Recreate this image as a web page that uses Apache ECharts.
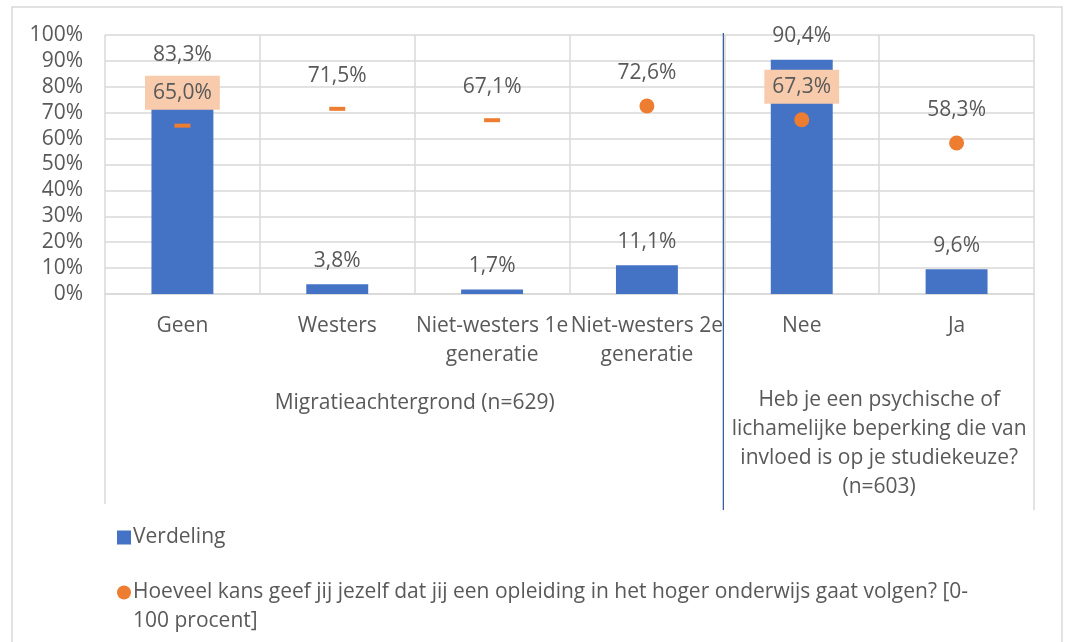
<!DOCTYPE html>
<html>
<head>
<meta charset="utf-8">
<script src="https://cdn.jsdelivr.net/npm/echarts@6/dist/echarts.min.js"></script>
<style>
  html, body { margin: 0; padding: 0; background: #fff; }
  #charts_box { width: 1070px; height: 642px; }
</style>
</head>
<body>
<div id="charts_box"></div>
<script>
// data
var categories = ['Geen', 'Westers', 'Niet-westers 1e\ngeneratie', 'Niet-westers 2e\ngeneratie', 'Nee', 'Ja'];
var verdeling = [83.3, 3.8, 1.7, 11.1, 90.4, 9.6];
var kans = [65.0, 71.5, 67.1, 72.6, 67.3, 58.3];
var kansMarker = ['dash', 'dash', 'dash', 'circle', 'circle', 'circle'];
var kansBoxed = [true, false, false, false, true, false];
var yTicks = [0, 10, 20, 30, 40, 50, 60, 70, 80, 90, 100];
var groups = [
  { name: 'Migratieachtergrond (n=629)', from: 0, to: 4 },
  { name: 'Heb je een psychische of\nlichamelijke beperking die van\ninvloed is op je studiekeuze?\n(n=603)', from: 4, to: 6 }
];
var serieNames = ['Verdeling', 'Hoeveel kans geef jij jezelf dat jij een opleiding in het hoger onderwijs gaat volgen? [0-'];
var legendTail = '100 procent]';

window.onload = function () {
  var myChart = echarts.init(document.getElementById('charts_box'));

  var gridLeft = 105, gridRight = 1034, gridTop = 35, gridBottom = 294;
  var catW = (gridRight - gridLeft) / categories.length;
  var txt = '#595959', font = 'Open Sans', fs = 21;

  function pct(v) { return v.toFixed(1).replace('.', ',') + '%'; }

  var kansData = kans.map(function (v, i) {
    var item = { value: v };
    if (kansMarker[i] === 'dash') {
      item.symbol = 'rect';
      item.symbolSize = [16, 4];
    } else {
      item.symbol = 'circle';
      item.symbolSize = 15;
    }
    if (kansBoxed[i]) {
      item.label = { backgroundColor: '#F8CBAD', padding: [7, 8, 6, 8] };
    }
    return item;
  });

  var graphics = [
    // outer chart border
    { type: 'rect', shape: { x: 12, y: 7, width: 1050, height: 660 }, style: { fill: 'none', stroke: '#D9D9D9', lineWidth: 1.5 }, silent: true },
    // category-axis area dividers
    { type: 'line', shape: { x1: gridLeft, y1: gridBottom, x2: gridLeft, y2: 504 }, style: { stroke: '#D9D9D9', lineWidth: 1.5 } },
    { type: 'line', shape: { x1: gridRight, y1: gridBottom, x2: gridRight, y2: 510 }, style: { stroke: '#D9D9D9', lineWidth: 1.5 } },
    { type: 'line', shape: { x1: gridLeft + 4 * catW - 1, y1: 33, x2: gridLeft + 4 * catW - 1, y2: 510 }, style: { stroke: '#2F5597', lineWidth: 1.2 }, z: 10 },
    // second line of the long legend text
    { type: 'text', left: 133, top: 607, style: { text: legendTail, fill: txt, font: fs + 'px "Open Sans"' } }
  ];
  groups.forEach(function (g) {
    graphics.push({
      type: 'text',
      x: gridLeft + (g.from + g.to) / 2 * catW,
      y: g.from === 0 ? 403 : 444,
      style: { text: g.name, fill: txt, font: fs + 'px "Open Sans"', align: 'center', verticalAlign: 'middle', lineHeight: 29 }
    });
  });
  graphics[4].top = 611;

  var option = {
    animation: false,
    textStyle: { fontFamily: font },
    grid: { left: gridLeft, right: 1070 - gridRight, top: gridTop, bottom: 642 - gridBottom },
    legend: {
      orient: 'vertical',
      left: 112,
      top: 522,
      itemWidth: 14,
      itemHeight: 14,
      itemGap: 34,
      textStyle: { color: txt, fontSize: fs, fontFamily: font, padding: [0, 0, 0, -3] },
      data: [
        { name: serieNames[0], icon: 'rect' },
        { name: serieNames[1], icon: 'circle' }
      ]
    },
    xAxis: {
      type: 'category',
      data: categories,
      axisLine: { lineStyle: { color: '#D9D9D9', width: 1.5 } },
      axisTick: { show: false },
      splitLine: { show: true, interval: 0, lineStyle: { color: '#D9D9D9', width: 1.5 } },
      axisLabel: { interval: 0, color: txt, fontSize: fs, margin: 18, lineHeight: 29, fontFamily: font }
    },
    yAxis: {
      type: 'value',
      min: yTicks[0],
      max: yTicks[yTicks.length - 1],
      interval: yTicks[1] - yTicks[0],
      axisLine: { show: false },
      axisTick: { show: false },
      splitLine: { lineStyle: { color: '#D9D9D9', width: 1.5 } },
      axisLabel: { formatter: '{value}%', color: txt, fontSize: fs, margin: 22, fontFamily: font }
    },
    series: [
      {
        name: serieNames[0],
        type: 'bar',
        data: verdeling,
        barWidth: '40%',
        itemStyle: { color: '#4472C4' },
        label: {
          show: true,
          position: 'top',
          distance: 13,
          color: txt,
          fontSize: fs,
          formatter: function (p) { return pct(p.value); }
        }
      },
      {
        name: serieNames[1],
        type: 'scatter',
        data: kansData,
        itemStyle: { color: '#ED7D31', opacity: 1 },
        z: 5,
        label: {
          show: true,
          position: 'inside',
          offset: [0, -33],
          color: txt,
          fontSize: fs,
          formatter: function (p) { return pct(p.value); }
        }
      }
    ],
    graphic: graphics
  };

  myChart.setOption(option);
};
</script>
</body>
</html>
